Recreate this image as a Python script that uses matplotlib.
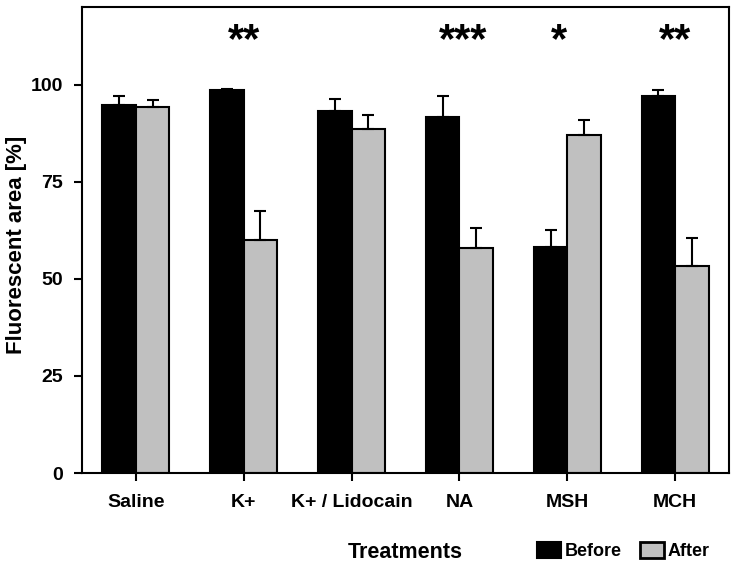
import numpy as np
import matplotlib
matplotlib.use('Agg')
from matplotlib import pyplot as plt
from matplotlib.patches import Patch

plt.rcParams['font.family'] = ['Liberation Sans', 'DejaVu Sans']
plt.rcParams['font.weight'] = 'bold'

# data
treatments = ['Saline', 'K+', 'K+ / Lidocain', 'NA', 'MSH', 'MCH']
before = [94.8, 98.5, 93.3, 91.8, 58.3, 97.2]
before_err = [2.4, 0.4, 3.0, 5.4, 4.2, 1.3]
after = [94.3, 60.0, 88.6, 57.9, 87.0, 53.4]
after_err = [1.7, 7.5, 3.7, 5.1, 3.9, 7.2]

stars = ['**', '***', '*', '**']
star_x = [1.0, 3.03, 3.92, 5.0]

fig = plt.figure(figsize=(7.38, 5.68), dpi=100)
ax = fig.add_axes([82/738, 1-473/568, (729-82)/738, (473-7)/568])

x = np.arange(len(treatments))
w = 0.31
ax.bar(x - w/2, before, w, color='black', edgecolor='black', linewidth=1.5,
       yerr=[np.zeros(len(before)), before_err],
       error_kw=dict(ecolor='black', elinewidth=1.5, capsize=4, capthick=1.5), zorder=2)
ax.bar(x + w/2, after, w, color='#c0c0c0', edgecolor='black', linewidth=1.5,
       yerr=[np.zeros(len(after)), after_err],
       error_kw=dict(ecolor='black', elinewidth=1.5, capsize=4, capthick=1.5), zorder=2)

# significance stars
for sx, s in zip(star_x, stars):
    ax.text(sx, 108.5, s, ha='center', va='baseline', fontsize=30, fontweight='bold')

ax.set_xlim(-0.5, 5.5)
ax.set_ylim(0, 120)
ax.set_yticks([0, 25, 50, 75, 100])
ax.set_xticks(x)
ax.set_xticklabels(treatments)
ax.tick_params(axis='both', direction='out', length=5.8, width=1.5, labelsize=14)
ax.tick_params(axis='x', pad=9.5)
ax.tick_params(axis='y', pad=8)
for lab in ax.get_xticklabels() + ax.get_yticklabels():
    lab.set_fontweight('bold')
for sp in ax.spines.values():
    sp.set_linewidth(1.5)

fig.text(17/738, 1-245/568, 'Fluorescent area [%]', rotation=90, ha='center', va='center',
         fontsize=16, fontweight='bold')
fig.text(405/738, 1-552/568, 'Treatments', ha='center', va='center', fontsize=15.5, fontweight='bold')

handles = [Patch(facecolor='black', edgecolor='black', linewidth=1.5, label='Before'),
           Patch(facecolor='#c0c0c0', edgecolor='black', linewidth=2, label='After')]
fig.legend(handles=handles, loc='center left', bbox_to_anchor=(528/738, 1-551/568),
           ncol=2, frameon=False, borderpad=0, handlelength=1.33, handleheight=1.05,
           handletextpad=0.2, columnspacing=1.0, prop=dict(size=13, weight='bold'))

fig.savefig('out.png', dpi=100)
